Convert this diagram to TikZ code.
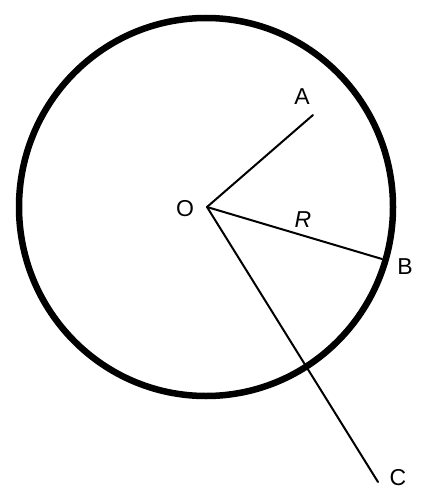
\documentclass[tikz,border=0pt]{standalone}
\usepackage{fontspec}
\setmainfont{Liberation Sans}
\begin{document}
\begin{tikzpicture}[x=1pt,y=-1pt,
  lbl/.style={font=\fontsize{23}{25}\selectfont,inner sep=0pt},
  thin line/.style={line width=2pt,line cap=round}]
\useasboundingbox (0,0) rectangle (441,500);
\draw[line width=6.5pt] (206,207) ellipse [x radius=187, y radius=189];
\coordinate (O) at (207,207);
\coordinate (A) at (313,115);
\coordinate (B) at (382,259);
\coordinate (C) at (378,482);
\draw[thin line] (O) -- (A);
\draw[thin line] (O) -- (B);
\draw[thin line] (O) -- (C);
\node[lbl] (lA) at (302,97) {A};
\node[lbl] (lO) at (185,209) {O};
\node[lbl] (lR) at (303,220) {\itshape R};
\node[lbl] (lB) at (405,267) {B};
\node[lbl] (lC) at (398,478) {C};
\end{tikzpicture}
\end{document}
